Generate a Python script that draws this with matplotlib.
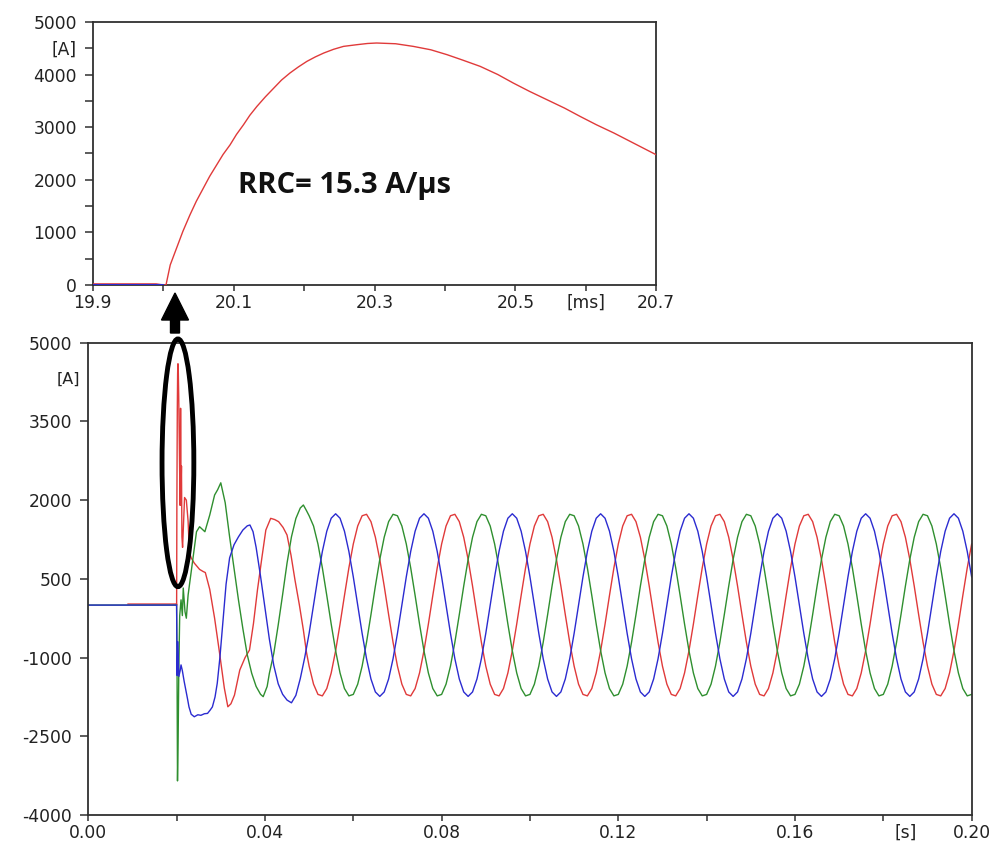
import numpy as np
import matplotlib
matplotlib.use('Agg')
import matplotlib.pyplot as plt
from matplotlib.patches import Ellipse, FancyArrow

# ---- data (time in ms, current in A) ----

# before the fault all three phase currents sit on zero
blue_pre_t = [0.0]
blue_pre_i = [0]
green_pre_t = [0.0]
green_pre_i = [0]
red_pre_t = [9.0, 19.99]
red_pre_i = [20, 20]

# fault transient, 20 ms .. 49.5 ms
red_t = [20.0, 20.004, 20.01, 20.019, 20.028, 20.038, 20.047, 20.057, 20.066,
         20.076, 20.085, 20.095, 20.104, 20.114, 20.123, 20.133, 20.145, 20.157,
         20.168, 20.18, 20.192, 20.204, 20.216, 20.228, 20.242, 20.256, 20.275,
         20.29, 20.303, 20.33, 20.355, 20.38, 20.403, 20.425, 20.45, 20.475,
         20.497, 20.52, 20.545, 20.57, 20.592, 20.615, 20.64, 20.67, 20.70,
         20.8, 20.9, 21.0, 21.1,
         21.2, 21.35, 21.6, 21.8, 22.2, 22.6, 22.9, 23.3, 24.0, 24.5, 25.2,
         26.0, 26.5, 27.5, 28.6, 29.7, 30.8, 31.6, 32.3, 33.1, 34.3, 35.5,
         36.5, 37.4, 38.3, 39.3, 40.2, 41.3, 42.2, 43.1, 44.1, 45.0, 45.9,
         46.8, 47.8, 48.7, 49.4]
red_i = [0, 0, 380, 698, 1020, 1332, 1590, 1840, 2065,
         2284, 2480, 2664, 2860, 3045, 3225, 3393, 3575, 3743,
         3895, 4029, 4145, 4250, 4335, 4409, 4480, 4535, 4567,
         4590, 4599, 4585, 4535, 4470, 4377, 4275, 4155, 4000,
         3838, 3680, 3520, 3360, 3203, 3045, 2887, 2680, 2474,
         1900, 3750, 2200, 2650,
         1300, 1100, 1650, 2050, 2000, 1600, 1000, 900, 800, 750, 680,
         640, 620, 300, -250, -900, -1580, -1938, -1880, -1715, -1238, -1000,
         -857, -350, 286, 900, 1430, 1653, 1630, 1589, 1480, 1335, 950,
         477, 0, -476, -900]

blue_t = [20.0, 20.05, 20.1, 20.3, 20.5, 20.8, 21.0, 21.3, 21.7, 22.1, 22.5,
          22.8, 23.3, 24.0, 24.8, 25.5, 26.3, 27.0, 27.6, 28.1, 28.7, 29.2,
          29.8, 30.5, 31.2, 32.0, 33.0, 34.0, 35.0, 36.0, 36.6, 37.3, 38.0,
          39.0, 40.0, 41.0, 42.0, 43.0, 44.0, 45.0, 46.0, 47.0, 48.0, 49.0]
blue_i = [0, -700, -1340, -700, -1360, -1250, -1140, -1250, -1450, -1620, -1800,
          -1940, -2080, -2128, -2090, -2100, -2070, -2064, -2000, -1940, -1750, -1490,
          -1000, -300, 400, 900, 1150, 1300, 1430, 1510, 1526, 1400, 1100,
          550, -50, -650, -1150, -1500, -1700, -1810, -1862, -1720, -1400, -1000]

green_t = [20.0, 20.1, 20.2, 20.35, 20.5, 20.7, 21.0, 21.3, 21.5, 21.9, 22.2,
           22.6, 23.4, 24.5, 25.2, 26.4, 27.5, 28.6, 29.3, 30.0, 31.0, 32.0,
           33.0, 34.0, 35.0, 36.0, 37.0, 38.0, 39.0, 39.6, 40.5, 41.0, 42.0,
           43.0, 44.0, 45.0, 46.0, 47.0, 48.0, 48.7, 49.4]
green_i = [0, -1300, -3350, -2500, -1200, -200, 100, -200, 325, -127, -250,
           190, 705, 1398, 1493, 1398, 1716, 2097, 2200, 2330, 1950, 1300,
           700, 100, -450, -950, -1300, -1550, -1700, -1745, -1550, -1300, -920,
           -380, 200, 800, 1300, 1650, 1850, 1907, 1800]

# steady state, one sample per ms from 50 ms to 200 ms (one row per cycle)
t_steady = np.arange(50, 201)

blue_steady = [
    [-538, 0, 538, 1023, 1408, 1655, 1740, 1655, 1408, 1023, 538, 0, -538, -1023, -1408, -1655, -1740, -1655, -1408, -1023],
    [-538, 0, 538, 1023, 1408, 1655, 1740, 1655, 1408, 1023, 538, 0, -538, -1023, -1408, -1655, -1740, -1655, -1408, -1023],
    [-538, 0, 538, 1023, 1408, 1655, 1740, 1655, 1408, 1023, 538, 0, -538, -1023, -1408, -1655, -1740, -1655, -1408, -1023],
    [-538, 0, 538, 1023, 1408, 1655, 1740, 1655, 1408, 1023, 538, 0, -538, -1023, -1408, -1655, -1740, -1655, -1408, -1023],
    [-538, 0, 538, 1023, 1408, 1655, 1740, 1655, 1408, 1023, 538, 0, -538, -1023, -1408, -1655, -1740, -1655, -1408, -1023],
    [-538, 0, 538, 1023, 1408, 1655, 1740, 1655, 1408, 1023, 538, 0, -538, -1023, -1408, -1655, -1740, -1655, -1408, -1023],
    [-538, 0, 538, 1023, 1408, 1655, 1740, 1655, 1408, 1023, 538, 0, -538, -1023, -1408, -1655, -1740, -1655, -1408, -1023],
    [-538, 0, 538, 1023, 1408, 1655, 1740, 1655, 1408, 1023, 538],
]
red_steady = [
    [-1164, -1507, -1702, -1730, -1590, -1293, -870, -362, 182, 708, 1164, 1507, 1702, 1730, 1590, 1293, 870, 362, -182, -708],
    [-1164, -1507, -1702, -1730, -1590, -1293, -870, -362, 182, 708, 1164, 1507, 1702, 1730, 1590, 1293, 870, 362, -182, -708],
    [-1164, -1507, -1702, -1730, -1590, -1293, -870, -362, 182, 708, 1164, 1507, 1702, 1730, 1590, 1293, 870, 362, -182, -708],
    [-1164, -1507, -1702, -1730, -1590, -1293, -870, -362, 182, 708, 1164, 1507, 1702, 1730, 1590, 1293, 870, 362, -182, -708],
    [-1164, -1507, -1702, -1730, -1590, -1293, -870, -362, 182, 708, 1164, 1507, 1702, 1730, 1590, 1293, 870, 362, -182, -708],
    [-1164, -1507, -1702, -1730, -1590, -1293, -870, -362, 182, 708, 1164, 1507, 1702, 1730, 1590, 1293, 870, 362, -182, -708],
    [-1164, -1507, -1702, -1730, -1590, -1293, -870, -362, 182, 708, 1164, 1507, 1702, 1730, 1590, 1293, 870, 362, -182, -708],
    [-1164, -1507, -1702, -1730, -1590, -1293, -870, -362, 182, 708, 1164],
]
green_steady = [
    [1702, 1507, 1164, 708, 182, -362, -870, -1293, -1590, -1730, -1702, -1507, -1164, -708, -182, 362, 870, 1293, 1590, 1730],
    [1702, 1507, 1164, 708, 182, -362, -870, -1293, -1590, -1730, -1702, -1507, -1164, -708, -182, 362, 870, 1293, 1590, 1730],
    [1702, 1507, 1164, 708, 182, -362, -870, -1293, -1590, -1730, -1702, -1507, -1164, -708, -182, 362, 870, 1293, 1590, 1730],
    [1702, 1507, 1164, 708, 182, -362, -870, -1293, -1590, -1730, -1702, -1507, -1164, -708, -182, 362, 870, 1293, 1590, 1730],
    [1702, 1507, 1164, 708, 182, -362, -870, -1293, -1590, -1730, -1702, -1507, -1164, -708, -182, 362, 870, 1293, 1590, 1730],
    [1702, 1507, 1164, 708, 182, -362, -870, -1293, -1590, -1730, -1702, -1507, -1164, -708, -182, 362, 870, 1293, 1590, 1730],
    [1702, 1507, 1164, 708, 182, -362, -870, -1293, -1590, -1730, -1702, -1507, -1164, -708, -182, 362, 870, 1293, 1590, 1730],
    [1702, 1507, 1164, 708, 182, -362, -870, -1293, -1590, -1730, -1702],
]

top_xticks = [19.9, 20.0, 20.1, 20.2, 20.3, 20.4, 20.5, 20.6, 20.7]
top_xlabels = ['19.9', '', '20.1', '', '20.3', '', '20.5', '[ms]', '20.7']
top_yticks = [0, 500, 1000, 1500, 2000, 2500, 3000, 3500, 4000, 4500, 5000]
top_ylabels = ['0', '', '1000', '', '2000', '', '3000', '', '4000', '[A]', '5000']

bot_xticks = [0.00, 0.02, 0.04, 0.06, 0.08, 0.10, 0.12, 0.14, 0.16, 0.18, 0.20]
bot_xlabels = ['0.00', '', '0.04', '', '0.08', '', '0.12', '', '0.16', '', '0.20']
bot_yticks = [-4000, -2500, -1000, 500, 2000, 3500, 5000]

RRC_TEXT = 'RRC= 15.3 A/\u03bcs'

RED = '#e03a3a'
GREEN = '#2f8f2f'
BLUE = '#2b2bd0'
INK = '#303030'
FS = 12.3


def build(pre_t, pre_i, t, i, steady):
    tt = np.concatenate([pre_t, t, t_steady]).astype(float)
    ii = np.concatenate([pre_i, i, np.concatenate([np.array(r) for r in steady])]).astype(float)
    return tt, ii


tr, ir = build(red_pre_t, red_pre_i, red_t, red_i, red_steady)
tb, ib = build(blue_pre_t, blue_pre_i, blue_t, blue_i, blue_steady)
tg, ig = build(green_pre_t, green_pre_i, green_t, green_i, green_steady)

plt.rcParams['font.family'] = ['DejaVu Sans']
plt.rcParams['axes.unicode_minus'] = False
fig = plt.figure(figsize=(9.93, 8.43), dpi=100)


def style(ax, xpad):
    for s in ax.spines.values():
        s.set_color(INK)
        s.set_linewidth(1.3)
    ax.tick_params(direction='out', width=1.1, color=INK,
                   labelsize=FS, labelcolor='#222222')
    ax.tick_params(axis='y', length=6, pad=5.5)
    ax.tick_params(axis='x', length=4.5, pad=xpad)


# ---- zoomed window ----
ax1 = fig.add_axes([0.0934, 0.662, 0.5675, 0.312])
ax1.plot(tr, ir, color=RED, lw=1.0, zorder=3)
ax1.plot(tb, ib, color=BLUE, lw=1.4, zorder=3.5)
ax1.set_xlim(19.9, 20.7)
ax1.set_ylim(0, 5000)
ax1.set_xticks(top_xticks)
ax1.set_xticklabels(top_xlabels)
ax1.set_yticks(top_yticks)
ax1.set_yticklabels(top_ylabels)
style(ax1, 1.8)
ax1.text(0.258, 0.378, RRC_TEXT, transform=ax1.transAxes, ha='left', va='center',
         fontsize=21, fontweight='bold', family=['Open Sans', 'DejaVu Sans'],
         color='#111111')

# ---- full record ----
ax2 = fig.add_axes([0.0889, 0.0332, 0.8896, 0.5603])
ax2.plot(tr / 1000, ir, color=RED, lw=1.0, zorder=2)
ax2.plot(tg / 1000, ig, color=GREEN, lw=1.0, zorder=2.1)
ax2.plot(tb / 1000, ib, color=BLUE, lw=1.0, zorder=2.2)
ax2.set_xlim(0, 0.2)
ax2.set_ylim(-4000, 5000)
ax2.set_xticks(bot_xticks)
ax2.set_xticklabels(bot_xlabels)
ax2.set_yticks(bot_yticks)
style(ax2, 2.0)
ax2.annotate('[s]', xy=(0.185, 0), xycoords=ax2.get_xaxis_transform(),
             xytext=(0, -6.5), textcoords='offset points', ha='center', va='top',
             fontsize=FS, color='#222222')
ax2.text(-0.023, 4300, '[A]', transform=ax2.get_yaxis_transform(), ha='center',
         va='center', fontsize=FS - 0.8, color='#222222')

# ellipse marking the first-peak detail
ax2.add_patch(Ellipse((0.0203, 2711), 0.0072, 4720, fill=False, ec='black',
                      lw=3.5, clip_on=False, zorder=5))

# arrow pointing up to the zoomed window
fig.patches.append(FancyArrow(1.75, 8.43 - 3.33, 0, 0.40, width=0.09,
                              head_width=0.27, head_length=0.27,
                              length_includes_head=True, color='black',
                              transform=fig.dpi_scale_trans))

fig.savefig('out.png', dpi=100)
